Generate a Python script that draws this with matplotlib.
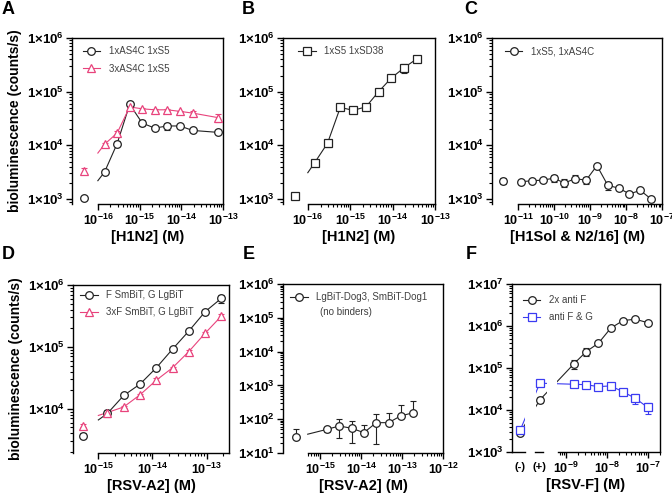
import matplotlib
matplotlib.use("Agg")
import matplotlib.pyplot as plt
from matplotlib.ticker import FixedLocator, FixedFormatter, NullFormatter

plt.rcParams['font.family'] = ['Liberation Sans', 'DejaVu Sans']
plt.rcParams['mathtext.fontset'] = 'custom'
plt.rcParams['mathtext.rm'] = 'Liberation Sans'
plt.rcParams['mathtext.bf'] = 'Liberation Sans:bold'
plt.rcParams['axes.linewidth'] = 1.0

PINK = '#e8437c'
BLUE = '#3b3bf2'
BLACK = '#222222'
YLABEL = 'bioluminescence (counts/s)'

# ---- A: [H1N2], 1xAS4C / 3xAS4C with 1xS5
A_conc = [1.45e-16, 2.9e-16, 5.8e-16, 1.16e-15, 2.3e-15, 4.6e-15, 9.3e-15, 1.86e-14, 7.4e-14]
A_black = [3.2e3, 1.08e4, 5.8e4, 2.6e4, 2.1e4, 2.3e4, 2.3e4, 1.9e4, 1.75e4]
A_black_sd = [200, 1200, 4000, 3500, 800, 3500, 1000, 1500, 800]
A_pink = [1.05e4, 1.7e4, 5.2e4, 4.8e4, 4.6e4, 4.6e4, 4.3e4, 4.0e4, 3.3e4]
A_pink_sd = [800, 1500, 2000, 2500, 1500, 1500, 1500, 4000, 6000]
A_zero = [1.03e3, 3.4e3]          # black, pink (no analyte)
A_zero_sd = [50, 400]
A_fit_start = [2.2e3, 7.2e3]      # curve value at 1e-16

# ---- B: [H1N2], 1xS5 1xSD38
B_conc = [1.46e-16, 2.92e-16, 5.84e-16, 1.17e-15, 2.34e-15, 4.67e-15, 9.34e-15, 1.87e-14, 3.74e-14]
B_vals = [4.8e3, 1.1e4, 5.1e4, 4.5e4, 5.2e4, 1.0e5, 1.8e5, 2.8e5, 4.1e5]
B_sd = [300, 1500, 4000, 1500, 2500, 5000, 25000, 55000, 50000]
B_zero = 1.15e3
B_zero_sd = 100
B_fit_start = 3.1e3

# ---- C: [H1Sol & N2/16], 1xS5, 1xAS4C
C_conc = [1.22e-11, 2.44e-11, 4.88e-11, 9.77e-11, 1.95e-10, 3.91e-10, 7.81e-10,
          1.56e-9, 3.13e-9, 6.25e-9, 1.25e-8, 2.5e-8, 5.0e-8]
C_vals = [2.1e3, 2.2e3, 2.25e3, 2.45e3, 2.0e3, 2.4e3, 2.25e3, 4.2e3, 1.8e3, 1.6e3, 1.25e3, 1.45e3, 1.0e3]
C_sd = [150, 100, 100, 400, 350, 350, 350, 200, 300, 100, 80, 80, 80]
C_zero = 2.2e3
C_zero_sd = 250

# ---- D: [RSV-A2], F SmBiT / 3xF SmBiT with G LgBiT
D_conc = [1.47e-15, 2.94e-15, 5.88e-15, 1.18e-14, 2.35e-14, 4.7e-14, 9.4e-14, 1.88e-13]
D_black = [8.4e3, 1.64e4, 2.5e4, 4.6e4, 9.2e4, 1.8e5, 3.7e5, 6.1e5]
D_black_sd = [1000, 1000, 1000, 2000, 4000, 8000, 20000, 90000]
D_pink = [8.7e3, 1.07e4, 1.68e4, 2.9e4, 4.6e4, 8.4e4, 1.66e5, 3.15e5]
D_pink_sd = [500, 500, 800, 3000, 2000, 5000, 8000, 30000]
D_zero = [3.7e3, 5.3e3]
D_zero_sd = [300, 300]
D_fit_start = [6.6e3, 7.8e3]      # curve value at 1e-15

# ---- E: [RSV-A2], no binders
E_conc = [1.47e-15, 2.94e-15, 5.88e-15, 1.18e-14, 2.35e-14, 4.7e-14, 9.4e-14, 1.88e-13]
E_vals = [50, 63, 54, 40, 79, 79, 126, 155]
E_err_lo = [9, 36, 34, 0, 60, 0, 0, 0]
E_err_hi = [9, 36, 33, 28, 60, 70, 137, 190]
E_zero = 30
E_zero_hi = 22
E_fit_start = 36                  # curve value at 5e-16

# ---- F: [RSV-F], (-) and (+) controls then titration
F_conc = [1.56e-9, 3.13e-9, 6.25e-9, 1.25e-8, 2.5e-8, 5.0e-8, 1.0e-7]
F_black = [1.25e5, 2.45e5, 3.9e5, 8.9e5, 1.35e6, 1.45e6, 1.2e6]
F_black_sd = [30000, 50000, 20000, 50000, 50000, 50000, 40000]
F_blue = [4.1e4, 4.0e4, 3.6e4, 3.75e4, 2.7e4, 1.9e4, 1.15e4]
F_blue_sd = [1500, 2000, 1500, 2000, 3500, 5000, 3500]
F_ctrl_black = [2.9e3, 1.74e4]    # (-), (+)
F_ctrl_black_sd = [300, 2500]
F_ctrl_blue = [3.3e3, 4.35e4]
F_ctrl_blue_sd = [300, 2000]


def rect(l, r, t, b):
    return [l / 672, 1 - b / 497, (r - l) / 672, (b - t) / 497]


def setup(ax, xlim, xstart, ylim, xdec, ydec):
    ax.set_xscale('log')
    ax.set_yscale('log')
    ax.set_xlim(*xlim)
    ax.set_ylim(*ylim)
    ax.spines['bottom'].set_bounds(xstart, xlim[1])
    ax.xaxis.set_major_locator(FixedLocator([10.0 ** e for e in xdec]))
    ax.xaxis.set_major_formatter(FixedFormatter([r'$\mathbf{10^{%d}}$' % e for e in xdec]))
    xmin = [m * 10.0 ** e for e in range(xdec[0] - 1, xdec[-1] + 1) for m in range(2, 10)
            if xstart * 0.999 <= m * 10.0 ** e <= xlim[1]]
    ax.xaxis.set_minor_locator(FixedLocator(xmin))
    ax.xaxis.set_minor_formatter(NullFormatter())
    ax.yaxis.set_major_locator(FixedLocator([10.0 ** e for e in ydec]))
    ax.yaxis.set_major_formatter(FixedFormatter([r'$\mathbf{1{\times}10^{%d}}$' % e for e in ydec]))
    ymin = [m * 10.0 ** e for e in range(ydec[0] - 1, ydec[-1] + 1) for m in range(2, 10)
            if ylim[0] <= m * 10.0 ** e <= ylim[1]]
    ax.yaxis.set_minor_locator(FixedLocator(ymin))
    ax.yaxis.set_minor_formatter(NullFormatter())
    ax.tick_params(which='major', length=4, width=1.0, labelsize=9.5, pad=2, top=False, right=False)
    ax.tick_params(axis='x', which='major', labelsize=9)
    ax.tick_params(which='minor', length=2, width=0.8, top=False, right=False)


def points(ax, x, y, lo, hi, color, marker):
    ax.errorbar(x, y, yerr=[lo, hi], fmt='none', ecolor=color, elinewidth=0.8,
                capsize=2, capthick=0.8, zorder=2)
    ax.plot(x, y, linestyle='none', marker=marker, ms=5.5, mfc='white', mec=color,
            mew=0.9, zorder=3)


def lower(y, sd):
    return [s if v - s > 0 else 0 for v, s in zip(y, sd)]


def series(ax, x, y, sd, color, marker, label, x0=None, y0=None):
    lx, ly = list(x), list(y)
    if x0 is not None:
        lx, ly = [x0] + lx, [y0] + ly
    ax.plot(lx, ly, color=color, lw=0.8, zorder=2)
    points(ax, x, y, lower(y, sd), sd, color, marker)
    ax.plot([], [], color=color, lw=0.8, marker=marker, ms=5.5, mfc='white', mec=color,
            mew=0.9, label=label)


def legend(ax, bx, by):
    lg = ax.legend(loc='upper left', bbox_to_anchor=(bx, by), frameon=False, fontsize=7,
                   handlelength=1.8, handletextpad=0.9, labelspacing=0.75, borderaxespad=0,
                   borderpad=0)
    for t in lg.get_texts():
        t.set_color('#404040')


def xlabel(ax, s):
    ax.set_xlabel(s, fontsize=10.5, fontweight='bold', labelpad=2)


fig = plt.figure(figsize=(6.72, 4.97), dpi=100)

# A
ax = fig.add_axes(rect(72, 223, 38, 204))
setup(ax, (2.4e-17, 1e-13), 1e-16, (8.1e2, 1e6), [-16, -15, -14, -13], [3, 4, 5, 6])
series(ax, A_conc, A_black, A_black_sd, BLACK, 'o', '1xAS4C 1xS5', 1e-16, A_fit_start[0])
series(ax, A_conc, A_pink, A_pink_sd, PINK, '^', '3xAS4C 1xS5', 1e-16, A_fit_start[1])
points(ax, [4.7e-17], [A_zero[0]], [A_zero_sd[0]], [A_zero_sd[0]], BLACK, 'o')
points(ax, [4.7e-17], [A_zero[1]], [A_zero_sd[1]], [A_zero_sd[1]], PINK, '^')
legend(ax, 0.07, 0.95)
ax.set_ylabel(YLABEL, fontsize=10, fontweight='bold', labelpad=3)
xlabel(ax, '[H1N2] (M)')

# B
ax = fig.add_axes(rect(283, 435, 38, 204))
setup(ax, (2.6e-17, 1e-13), 1e-16, (8.1e2, 1e6), [-16, -15, -14, -13], [3, 4, 5, 6])
series(ax, B_conc, B_vals, B_sd, BLACK, 's', '1xS5 1xSD38', 1e-16, B_fit_start)
points(ax, [4.9e-17], [B_zero], [B_zero_sd], [B_zero_sd], BLACK, 's')
legend(ax, 0.1, 0.95)
xlabel(ax, '[H1N2] (M)')

# C
ax = fig.add_axes(rect(492, 662, 38, 204))
setup(ax, (1.9e-12, 1e-7), 1e-11, (8.1e2, 1e6), [-11, -10, -9, -8, -7], [3, 4, 5, 6])
series(ax, C_conc, C_vals, C_sd, BLACK, 'o', '1xS5, 1xAS4C')
points(ax, [3.8e-12], [C_zero], [C_zero_sd], [C_zero_sd], BLACK, 'o')
legend(ax, 0.076, 0.95)
xlabel(ax, '[H1Sol & N2/16] (M)')

# D
ax = fig.add_axes(rect(73, 229, 285, 453))
setup(ax, (3.4e-16, 2.6e-13), 1e-15, (1.93e3, 1e6), [-15, -14, -13], [4, 5, 6])
series(ax, D_conc, D_black, D_black_sd, BLACK, 'o', 'F SmBiT, G LgBiT', 1e-15, D_fit_start[0])
series(ax, D_conc, D_pink, D_pink_sd, PINK, '^', '3xF SmBiT, G LgBiT', 1e-15, D_fit_start[1])
points(ax, [5.3e-16], [D_zero[0]], [D_zero_sd[0]], [D_zero_sd[0]], BLACK, 'o')
points(ax, [5.3e-16], [D_zero[1]], [D_zero_sd[1]], [D_zero_sd[1]], PINK, '^')
legend(ax, 0.045, 0.97)
ax.set_ylabel(YLABEL, fontsize=10, fontweight='bold', labelpad=3)
xlabel(ax, '[RSV-A2] (M)')

# E
ax = fig.add_axes(rect(283, 443, 284, 453))
setup(ax, (1.25e-16, 1e-12), 5e-16, (1e1, 1e6), [-15, -14, -13, -12], [1, 2, 3, 4, 5, 6])
ax.plot([5e-16] + E_conc, [E_fit_start] + E_vals, color=BLACK, lw=0.8, zorder=2)
points(ax, E_conc, E_vals, E_err_lo, E_err_hi, BLACK, 'o')
points(ax, [2.6e-16], [E_zero], [0], [E_zero_hi], BLACK, 'o')
ax.plot([], [], color=BLACK, lw=0.8, marker='o', ms=5.5, mfc='white', mec=BLACK, mew=0.9,
        label='LgBiT-Dog3, SmBiT-Dog1')
legend(ax, 0.044, 0.95)
ax.text(0.232, 0.835, '(no binders)', transform=ax.transAxes, fontsize=7, color='#404040',
        va='center', ha='left')
xlabel(ax, '[RSV-A2] (M)')

# F
ax = fig.add_axes(rect(512, 660, 284, 452))
setup(ax, (4.8e-11, 2e-7), 6.4e-10, (1e3, 1e7), [-9, -8, -7], [3, 4, 5, 6, 7])
ctrl_x = [7.6e-11, 2.3e-10]
ax.plot(ctrl_x + F_conc, F_ctrl_black + F_black, color=BLACK, lw=0.8, zorder=2)
ax.plot(ctrl_x + F_conc, F_ctrl_blue + F_blue, color=BLUE, lw=0.8, zorder=2)
# gaps of the broken axis hide the connecting lines
ax.axvspan(1.0e-10, 1.9e-10, color='white', lw=0, zorder=2.2)
ax.axvspan(3.5e-10, 6.2e-10, color='white', lw=0, zorder=2.2)
points(ax, ctrl_x + F_conc, F_ctrl_black + F_black,
       lower(F_ctrl_black + F_black, F_ctrl_black_sd + F_black_sd), F_ctrl_black_sd + F_black_sd, BLACK, 'o')
points(ax, ctrl_x + F_conc, F_ctrl_blue + F_blue,
       lower(F_ctrl_blue + F_blue, F_ctrl_blue_sd + F_blue_sd), F_ctrl_blue_sd + F_blue_sd, BLUE, 's')
ax.plot([], [], color=BLACK, lw=0.8, marker='o', ms=5.5, mfc='white', mec=BLACK, mew=0.9, label='2x anti F')
ax.plot([], [], color=BLUE, lw=0.8, marker='s', ms=5.5, mfc='white', mec=BLUE, mew=0.9, label='anti F & G')
xt = ax.get_xaxis_transform()
ax.plot([4.8e-11, 1.0e-10], [0, 0], transform=xt, color='black', lw=1.0, clip_on=False, zorder=3)
ax.plot([1.75e-10, 2.75e-10], [0, 0], transform=xt, color='black', lw=1.0, clip_on=False, zorder=3)
for cx, s in zip(ctrl_x, ['(-)', '(+)']):
    ax.annotate(s, xy=(cx, 0), xycoords=xt, xytext=(0, -7), textcoords='offset points',
                ha='center', va='top', fontsize=8, fontweight='bold')
legend(ax, 0.074, 0.935)
xlabel(ax, '[RSV-F] (M)')

for s, x, y in [('A', 2, 1), ('B', 242, 1), ('C', 464, 1), ('D', 2, 246), ('E', 243, 246), ('F', 466, 246)]:
    fig.text(x / 672, 1 - y / 497, s, fontsize=13, fontweight='bold', ha='left', va='top')

fig.savefig('out.png', dpi=100)
